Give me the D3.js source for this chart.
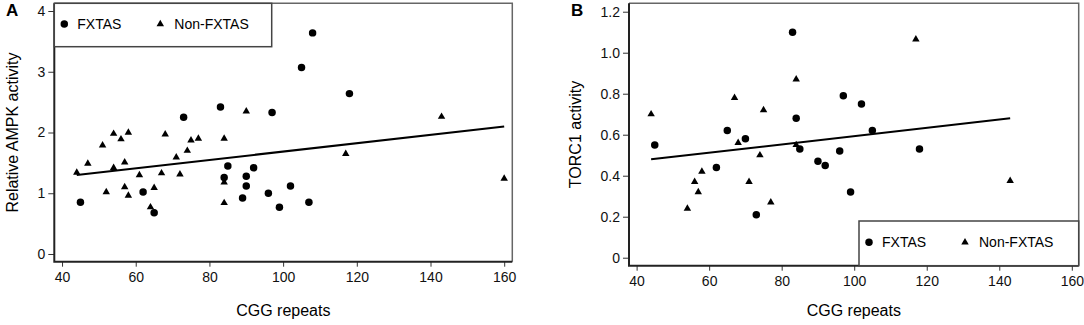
<!DOCTYPE html>
<html>
<head>
<meta charset="utf-8">
<script src="https://cdn.jsdelivr.net/npm/d3@7"></script>
<style>
  body { margin: 0; background: #fff; }
  svg { font-family: "Liberation Sans", Arial, sans-serif; }
  .tick text { font-size: 14px; fill: #111; }
  .tick line { stroke: #333; }
</style>
</head>
<body>
<div id="chart"></div>
<script>
// panel A : relative AMPK activity vs CGG repeats
var ampkFxtasCgg = [73, 83, 97, 105, 108, 118, 85, 92, 84, 90, 90, 102, 96, 89, 99, 107, 62, 45, 65]
var ampkFxtasVal = [2.25, 2.42, 2.33, 3.07, 3.64, 2.64, 1.45, 1.42, 1.26, 1.28, 1.12, 1.12, 1.00, 0.92, 0.77, 0.85, 1.02, 0.85, 0.68]
var ampkNonCgg = [54, 58, 56, 51, 68, 75, 77, 74, 71, 47, 57, 54, 44, 61, 67, 72, 52, 57, 58, 65, 64, 90, 84, 84, 84, 143, 117, 160]
var ampkNonVal = [1.98, 2.00, 1.89, 1.79, 1.97, 1.87, 1.90, 1.70, 1.59, 1.49, 1.51, 1.42, 1.34, 1.30, 1.33, 1.31, 1.02, 1.10, 0.96, 1.09, 0.77, 2.35, 1.90, 1.18, 0.84, 2.26, 1.65, 1.24]
var ampkFitCgg = [44, 160]
var ampkFitVal = [1.30, 2.10]

// panel B : TORC1 activity vs CGG repeats
var torcFxtasCgg = [83, 84, 65, 45, 70, 85, 90, 92, 96, 62, 73, 97, 102, 105, 118, 99]
var torcFxtasVal = [1.10, 0.68, 0.62, 0.55, 0.58, 0.53, 0.47, 0.45, 0.52, 0.44, 0.21, 0.79, 0.75, 0.62, 0.53, 0.32]
var torcNonCgg = [84, 67, 44, 75, 68, 84, 74, 58, 56, 71, 57, 54, 77, 117, 143]
var torcNonVal = [0.87, 0.78, 0.70, 0.72, 0.56, 0.55, 0.50, 0.42, 0.37, 0.37, 0.32, 0.24, 0.27, 1.065, 0.375]
var torcFitCgg = [44, 143]
var torcFitVal = [0.48, 0.68]

var xTicks = [40, 60, 80, 100, 120, 140, 160]
var ampkTicks = [0, 1, 2, 3, 4]
var torcTicks = [0, 0.2, 0.4, 0.6, 0.8, 1.0, 1.2]
var groups = ["FXTAS", "Non-FXTAS"]

function zip(a, b) {
  return a.map(function (d, i) { return { x: d, y: b[i] }; });
}

var svg = d3.select("#chart")
  .append("svg")
  .attr("width", 1084)
  .attr("height", 325)

var circleSym = d3.symbol().type(d3.symbolCircle).size(44)
var triSym = d3.symbol().type(d3.symbolTriangle).size(24)

function panel(opt) {
  var x = d3.scaleLinear().domain(opt.xDomain).range([opt.left, opt.right])
  var y = d3.scaleLinear().domain(opt.yDomain).range([opt.bottom, opt.top])
  var g = svg.append("g")

  // x axis
  g.append("g")
    .attr("transform", "translate(0," + opt.bottom + ")")
    .call(d3.axisBottom(x).tickValues(xTicks).tickSize(5).tickPadding(5))
    .call(function (a) { a.select(".domain").remove(); })

  // y axis
  g.append("g")
    .attr("transform", "translate(" + opt.left + ",0)")
    .call(d3.axisLeft(y).tickValues(opt.yTicks).tickSize(6).tickPadding(3)
      .tickFormat(function (d) { return d === 0 ? "0" : opt.fmt(d); }))
    .call(function (a) { a.select(".domain").remove(); })

  // frame : grey top / right, dark left / bottom
  g.append("path")
    .attr("d", "M" + opt.left + "," + opt.top + "H" + opt.right + "V" + opt.bottom)
    .attr("fill", "none").attr("stroke", "#666").attr("stroke-width", 1.5)
  g.append("path")
    .attr("d", "M" + opt.left + "," + opt.top + "V" + opt.bottom + "H" + opt.right)
    .attr("fill", "none").attr("stroke", "#222").attr("stroke-width", 2)

  // fit line
  g.append("path")
    .datum(zip(opt.fitX, opt.fitY))
    .attr("fill", "none")
    .attr("stroke", "#000")
    .attr("stroke-width", 2)
    .attr("d", d3.line().x(function (d) { return x(d.x); }).y(function (d) { return y(d.y); }))

  // points
  g.selectAll(".tri")
    .data(zip(opt.nonX, opt.nonY))
    .enter().append("path")
    .attr("d", triSym)
    .attr("transform", function (d) { return "translate(" + x(d.x) + "," + y(d.y) + ")"; })
    .attr("fill", "#000")
  g.selectAll(".dot")
    .data(zip(opt.fxX, opt.fxY))
    .enter().append("path")
    .attr("d", circleSym)
    .attr("transform", function (d) { return "translate(" + x(d.x) + "," + y(d.y) + ")"; })
    .attr("fill", "#000")

  // legend
  var lg = opt.legend
  g.append("rect")
    .attr("x", lg.x).attr("y", lg.y).attr("width", lg.w).attr("height", lg.h)
    .attr("fill", "#fff").attr("stroke", "#444").attr("stroke-width", 1.5)
  var cy = lg.y + lg.h / 2 - 1
  g.append("path").attr("d", circleSym).attr("fill", "#000")
    .attr("transform", "translate(" + (lg.x + 10) + "," + cy + ")")
  g.append("text").attr("x", lg.x + 23).attr("y", cy + 5)
    .attr("font-size", 14).text(groups[0])
  g.append("path").attr("d", triSym).attr("fill", "#000")
    .attr("transform", "translate(" + (lg.x + 106) + "," + cy + ")")
  g.append("text").attr("x", lg.x + 120).attr("y", cy + 5)
    .attr("font-size", 14).text(groups[1])

  // titles
  g.append("text")
    .attr("x", (opt.left + opt.right) / 2).attr("y", 316)
    .attr("text-anchor", "middle").attr("font-size", 16)
    .text("CGG repeats")
  g.append("text")
    .attr("transform", "translate(" + opt.yTitleX + "," + ((opt.top + opt.bottom) / 2) + ") rotate(-90)")
    .attr("text-anchor", "middle").attr("font-size", 16)
    .text(opt.yTitle)
  g.append("text")
    .attr("x", opt.labelX).attr("y", 16)
    .attr("font-size", 17).attr("font-weight", "bold")
    .text(opt.label)
}

panel({
  label: "A", labelX: 6,
  left: 54.3, right: 512.3, top: 3.3, bottom: 261.7,
  xDomain: [37.9, 162.2], yDomain: [-0.127, 4.127],
  yTicks: ampkTicks, fmt: d3.format("d"),
  fxX: ampkFxtasCgg, fxY: ampkFxtasVal,
  nonX: ampkNonCgg, nonY: ampkNonVal,
  fitX: ampkFitCgg, fitY: ampkFitVal,
  yTitle: "Relative AMPK activity", yTitleX: 18,
  legend: { x: 54.3, y: 3.3, w: 217.4, h: 43.4 }
})

panel({
  label: "B", labelX: 571,
  left: 629, right: 1078.7, top: 3.3, bottom: 265.7,
  xDomain: [37.9, 161.9], yDomain: [-0.039, 1.241],
  yTicks: torcTicks, fmt: d3.format(".1f"),
  fxX: torcFxtasCgg, fxY: torcFxtasVal,
  nonX: torcNonCgg, nonY: torcNonVal,
  fitX: torcFitCgg, fitY: torcFitVal,
  yTitle: "TORC1 activity", yTitleX: 581,
  legend: { x: 859, y: 221, w: 219.7, h: 44.7 }
})
</script>
</body>
</html>
